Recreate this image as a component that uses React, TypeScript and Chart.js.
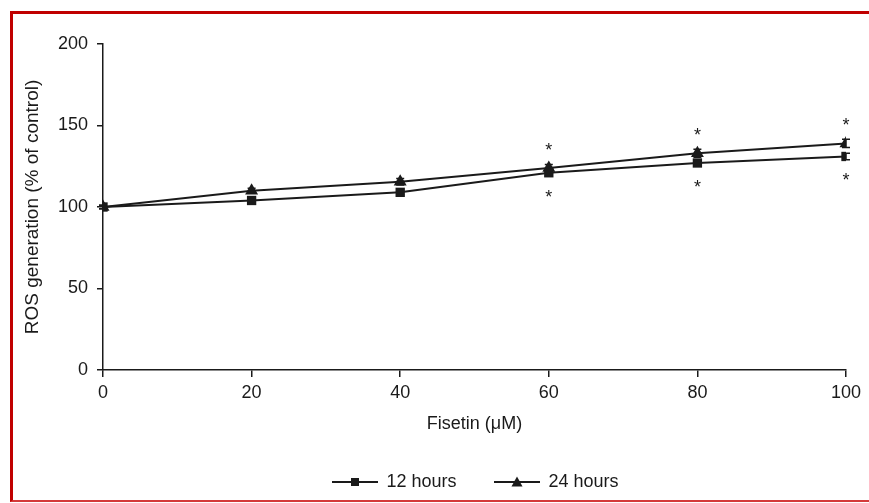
import React, { useEffect, useRef } from "react";
import { Chart, registerables } from "chart.js";

Chart.register(...registerables);

const doses = [0, 20, 40, 60, 80, 100];
const ros12 = [100, 104, 109, 121, 127, 131];
const ros24 = [100, 110, 115.5, 124, 133, 139];
const err12 = [1, 1.5, 1.5, 2, 2, 2];
const err24 = [1, 1.5, 2, 2, 2.5, 2.5];
const sig12 = [false, false, false, true, true, true];
const sig24 = [false, false, false, true, true, true];
const seriesLabels = ["12 hours", "24 hours"];
const xTitle = "Fisetin (μM)";
const yTitle = "ROS generation (% of control)";

const FONT = "'Liberation Sans', Arial, sans-serif";
const INK = "#1a1a1a";

function makeLegendIcon(kind: "square" | "triangle"): HTMLCanvasElement {
  const c = document.createElement("canvas");
  c.width = 46;
  c.height = 14;
  const ctx = c.getContext("2d")!;
  ctx.strokeStyle = INK;
  ctx.fillStyle = INK;
  ctx.lineWidth = 1.8;
  ctx.beginPath();
  ctx.moveTo(0, 7);
  ctx.lineTo(46, 7);
  ctx.stroke();
  if (kind === "square") {
    ctx.fillRect(19, 3, 8, 8);
  } else {
    ctx.beginPath();
    ctx.moveTo(23, 1.5);
    ctx.lineTo(28.5, 11.5);
    ctx.lineTo(17.5, 11.5);
    ctx.closePath();
    ctx.fill();
  }
  return c;
}

const errorBarPlugin = {
  id: "errorBars",
  beforeDatasetsDraw(chart: any) {
    const ctx = chart.ctx;
    const y = chart.scales.y;
    const sets = [
      { v: ros12, e: err12 },
      { v: ros24, e: err24 },
    ];
    ctx.save();
    ctx.strokeStyle = INK;
    ctx.lineWidth = 1.5;
    sets.forEach((s, di) => {
      const meta = chart.getDatasetMeta(di);
      meta.data.forEach((pt: any, j: number) => {
        const top = y.getPixelForValue(s.v[j] + s.e[j]);
        const bot = y.getPixelForValue(s.v[j] - s.e[j]);
        ctx.beginPath();
        ctx.moveTo(pt.x, top);
        ctx.lineTo(pt.x, bot);
        ctx.moveTo(pt.x - 4, top);
        ctx.lineTo(pt.x + 4, top);
        ctx.moveTo(pt.x - 4, bot);
        ctx.lineTo(pt.x + 4, bot);
        ctx.stroke();
      });
    });
    ctx.restore();
  },
  afterDatasetsDraw(chart: any) {
    const ctx = chart.ctx;
    const y = chart.scales.y;
    ctx.save();
    ctx.fillStyle = INK;
    ctx.font = `18px ${FONT}`;
    ctx.textAlign = "center";
    ctx.textBaseline = "alphabetic";
    const m12 = chart.getDatasetMeta(0);
    const m24 = chart.getDatasetMeta(1);
    doses.forEach((_, j) => {
      if (sig24[j]) {
        const py = y.getPixelForValue(ros24[j] + err24[j]) - 19;
        ctx.fillText("*", m24.data[j].x, py + 10.6);
      }
      if (sig12[j]) {
        const py = y.getPixelForValue(ros12[j] - err12[j]) + 16;
        ctx.fillText("*", m12.data[j].x, py + 10.6);
      }
    });
    ctx.restore();
  },
  afterLayout(chart: any) {
    if (chart.legend) {
      chart.legend.left += 42;
      chart.legend.right += 42;
    }
  },
};

export default function App() {
  const ref = useRef<HTMLCanvasElement | null>(null);

  useEffect(() => {
    if (!ref.current) return;
    const icons = [makeLegendIcon("square"), makeLegendIcon("triangle")];
    const chart = new Chart(ref.current, {
      type: "line",
      data: {
        datasets: [
          {
            label: seriesLabels[0],
            data: doses.map((d, i) => ({ x: d, y: ros12[i] })),
            borderColor: INK,
            backgroundColor: INK,
            borderWidth: 2,
            pointStyle: "rect",
            pointRadius: 6.6,
            pointBorderWidth: 0,
            tension: 0,
          },
          {
            label: seriesLabels[1],
            data: doses.map((d, i) => ({ x: d, y: ros24[i] })),
            borderColor: INK,
            backgroundColor: INK,
            borderWidth: 2,
            pointStyle: "triangle",
            pointRadius: 7.5,
            pointBorderWidth: 0,
            tension: 0,
          },
        ],
      },
      options: {
        animation: false,
        responsive: false,
        maintainAspectRatio: false,
        layout: { padding: { left: 21, right: 23, top: 44, bottom: 2 } },
        plugins: {
          tooltip: { enabled: false },
          legend: {
            position: "bottom",
            labels: {
              usePointStyle: true,
              pointStyleWidth: 45,
              boxHeight: 14,
              padding: 38,
              color: INK,
              font: { size: 18, family: FONT },
              generateLabels: (ch: any) =>
                ch.data.datasets.map((ds: any, i: number) => ({
                  text: ds.label,
                  pointStyle: icons[i],
                  fillStyle: INK,
                  strokeStyle: INK,
                  lineWidth: 0,
                  fontColor: INK,
                  hidden: false,
                  datasetIndex: i,
                })),
            },
          },
        },
        scales: {
          x: {
            type: "linear",
            min: 0,
            max: 100,
            ticks: {
              stepSize: 20,
              color: INK,
              padding: 5,
              font: { size: 18, family: FONT },
            },
            grid: {
              drawOnChartArea: false,
              drawTicks: true,
              tickLength: 7,
              color: INK,
              lineWidth: 1.5,
            },
            border: { display: true, color: INK, width: 1.5 },
            title: {
              display: true,
              text: xTitle,
              color: INK,
              font: { size: 18, family: FONT },
              padding: { top: 0, bottom: 0 },
            },
            afterFit: (s: any) => {
              s.height = 65;
            },
          },
          y: {
            type: "linear",
            min: 0,
            max: 200,
            ticks: {
              stepSize: 50,
              color: INK,
              padding: 9,
              font: { size: 18, family: FONT },
            },
            grid: {
              drawOnChartArea: false,
              drawTicks: true,
              tickLength: 6,
              color: INK,
              lineWidth: 1.5,
            },
            border: { display: true, color: INK, width: 1.5 },
            title: {
              display: true,
              text: yTitle,
              color: INK,
              font: { size: 19, family: FONT },
              padding: { top: 0, bottom: 0 },
            },
            afterFit: (s: any) => {
              s.width = 82;
            },
          },
        },
      },
      plugins: [errorBarPlugin],
    });
    return () => chart.destroy();
  }, []);

  return (
    <div
      style={{
        position: "fixed",
        left: 0,
        top: 0,
        width: 869,
        height: 503,
        background: "#fff",
        overflow: "hidden",
      }}
    >
      <div
        style={{
          position: "absolute",
          left: 10,
          top: 11,
          width: 880,
          height: 491,
          boxSizing: "border-box",
          borderTop: "3px solid #c00000",
          borderLeft: "3px solid #c00000",
          borderBottom: "2px solid #d43a3a",
        }}
      />
      <canvas
        ref={ref}
        width={869}
        height={503}
        style={{ position: "absolute", left: 0, top: 0, width: 869, height: 503 }}
      />
    </div>
  );
}
